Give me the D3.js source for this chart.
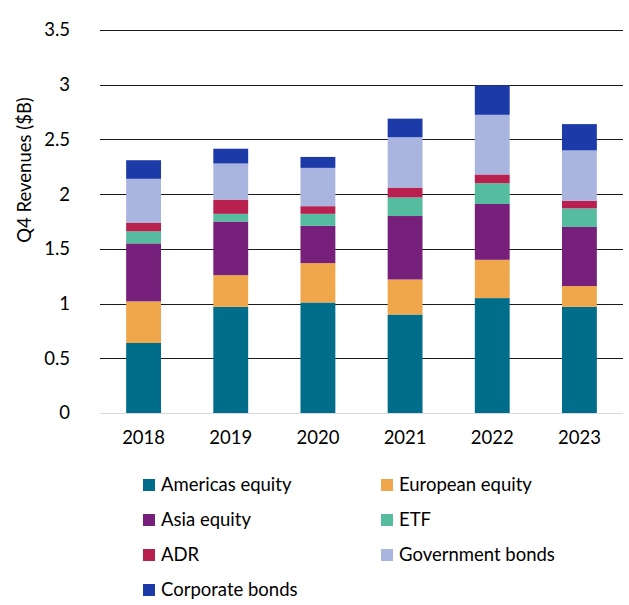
<!DOCTYPE html>
<html>
<head>
<meta charset="utf-8">
<script src="https://cdn.jsdelivr.net/npm/d3@7"></script>
<style>
  body { margin: 0; background: #fff; }
  text { font-family: Lato, "Open Sans", sans-serif; fill: #000; }
</style>
</head>
<body>
<div id="main"></div>
<script>
var width = 629;
var height = 605;
var margin = {t: 30, r: 6, b: 192, l: 100};
var fontSize = '18.5px';

var years = ['2018', '2019', '2020', '2021', '2022', '2023'];
var seriesNames = ['Americas equity', 'European equity', 'Asia equity', 'ETF', 'ADR', 'Government bonds', 'Corporate bonds'];
var colors = ['#006e8a', '#f0a64b', '#76207b', '#55bc9f', '#b82050', '#a9b5df', '#1d3aa9'];

// values per series, one per year
var americas   = [0.64, 0.97, 1.01, 0.90, 1.05, 0.97];
var european   = [0.38, 0.29, 0.36, 0.32, 0.35, 0.19];
var asia       = [0.53, 0.49, 0.34, 0.58, 0.51, 0.54];
var etf        = [0.11, 0.07, 0.11, 0.17, 0.19, 0.17];
var adr        = [0.08, 0.13, 0.07, 0.09, 0.08, 0.07];
var government = [0.40, 0.33, 0.35, 0.46, 0.545, 0.46];
var corporate  = [0.17, 0.135, 0.10, 0.17, 0.27, 0.24];

var yTicks = [0, 0.5, 1, 1.5, 2, 2.5, 3, 3.5];
var yTickLabels = ['0', '0.5', '1', '1.5', '2', '2.5', '3', '3.5'];

var seriesValues = [americas, european, asia, etf, adr, government, corporate];

var rows = years.map(function(y, i) {
    var row = {year: y};
    seriesNames.forEach(function(s, j) { row[s] = seriesValues[j][i]; });
    return row;
});

var svg = d3.select('#main').append('svg')
    .attr('width', width)
    .attr('height', height);

var plotW = width - margin.l - margin.r;
var plotH = 413 - margin.t;

var xScale = d3.scaleBand().domain(years).range([0, plotW]).paddingInner(0.6).paddingOuter(0.3);
var yScale = d3.scaleLinear().domain([0, 3.5]).range([plotH, 0]);

var chart = svg.append('g').attr('transform', `translate(${margin.l}, ${margin.t})`);

// gridlines
chart.selectAll('.grid')
    .data(yTicks.filter(function(d) { return d > 0; }))
    .enter()
    .append('line')
    .attr('class', 'grid')
    .attr('x1', 0).attr('x2', plotW)
    .attr('y1', function(d) { return Math.round(yScale(d)) + 0.5; })
    .attr('y2', function(d) { return Math.round(yScale(d)) + 0.5; })
    .attr('stroke', '#1a1a1a')
    .attr('stroke-width', 1);

var stack = d3.stack().keys(seriesNames);
var layers = stack(rows);

chart.selectAll('.layer')
    .data(layers)
    .enter()
    .append('g')
    .attr('class', 'layer')
    .attr('fill', function(d, i) { return colors[i]; })
    .selectAll('rect')
    .data(function(d) { return d; })
    .enter()
    .append('rect')
    .attr('x', function(d) { return xScale(d.data.year); })
    .attr('width', xScale.bandwidth())
    .attr('y', function(d) { return yScale(d[1]); })
    .attr('height', function(d) { return yScale(d[0]) - yScale(d[1]); });

// baseline
chart.append('line')
    .attr('x1', 0).attr('x2', plotW)
    .attr('y1', yScale(0) + 0.5).attr('y2', yScale(0) + 0.5)
    .attr('stroke', '#d9d9d9')
    .attr('stroke-width', 1);

// y axis labels
var yAxis = d3.axisLeft(yScale)
    .tickValues(yTicks)
    .tickFormat(function(d, i) { return yTickLabels[i]; })
    .tickSize(0)
    .tickPadding(30);

chart.append('g')
    .call(yAxis)
    .call(function(g) { g.select('.domain').remove(); })
    .selectAll('text')
    .style('font-size', fontSize)
    .style('font-family', 'Lato, "Open Sans", sans-serif')
    .attr('fill', '#000');

// x axis labels
var xAxis = d3.axisBottom(xScale).tickSize(0).tickPadding(18);

chart.append('g')
    .attr('transform', `translate(0, ${plotH})`)
    .call(xAxis)
    .call(function(g) { g.select('.domain').remove(); })
    .selectAll('text')
    .style('font-size', fontSize)
    .style('font-family', 'Lato, "Open Sans", sans-serif')
    .attr('fill', '#000');

svg.append('text')
    .text('Q4 Revenues ($B)')
    .attr('transform', 'translate(31, 170) rotate(-90)')
    .attr('text-anchor', 'middle')
    .style('font-size', fontSize);

// legend
var legend = svg.selectAll('.legend')
    .data(seriesNames)
    .enter()
    .append('g')
    .attr('class', 'legend')
    .attr('transform', function(d, i) {
        var col = i % 2;
        var row = Math.floor(i / 2);
        return `translate(${col == 0 ? 143 : 381}, ${485 + row * 35})`;
    });

legend.append('rect')
    .attr('x', 0).attr('y', -6)
    .attr('width', 12).attr('height', 12)
    .attr('fill', function(d, i) { return colors[i]; });

legend.append('text')
    .text(function(d) { return d; })
    .attr('x', 18)
    .attr('dy', '0.35em')
    .style('font-size', fontSize);
</script>
</body>
</html>
